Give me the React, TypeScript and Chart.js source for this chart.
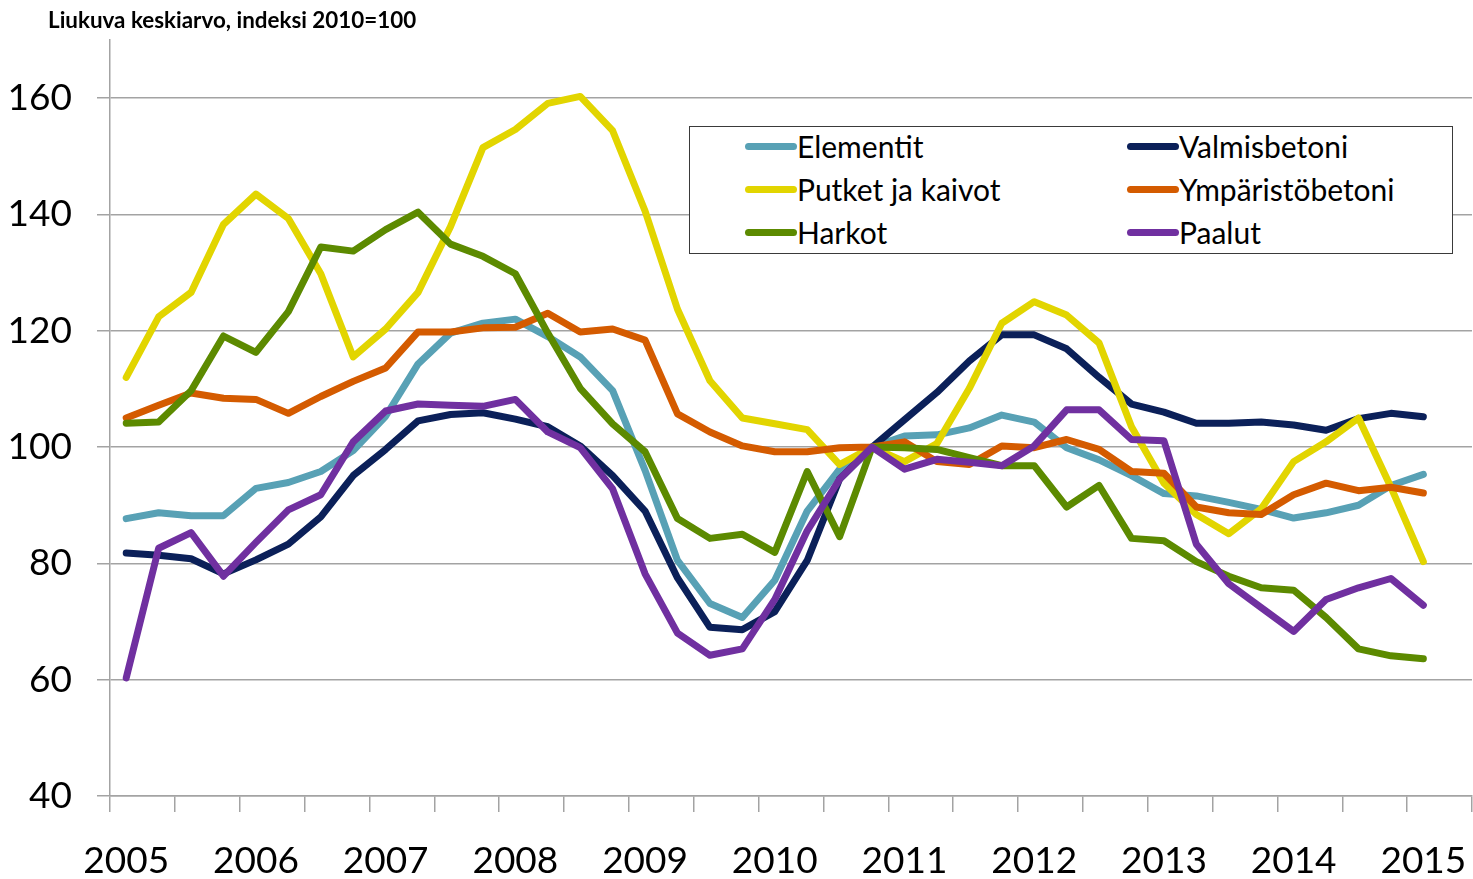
import React, { useEffect, useRef } from 'react';
import { Chart, registerables } from 'chart.js';

Chart.register(...registerables);

// ---- data ----
const YEARS = ['2005', '2006', '2007', '2008', '2009', '2010', '2011', '2012', '2013', '2014', '2015'];
const QUARTERS = ['Q1', 'Q2', 'Q3', 'Q4'];
const CATEGORIES: string[] = [];
YEARS.forEach((y) => QUARTERS.forEach((q) => CATEGORIES.push(y + q)));
const CATS = CATEGORIES.slice(0, 42); // 2005Q1 .. 2015Q2

const Y_TICKS = [40, 60, 80, 100, 120, 140, 160];

const TITLE = 'Liukuva keskiarvo, indeksi 2010=100';

const ELEMENTIT = [
  87.7, 88.7, 88.2, 88.2, 92.9, 93.9, 95.8, 99.4, 105.3, 114.3,
  119.6, 121.3, 122.0, 119.0, 115.5, 109.7, 96.0, 80.5, 73.1, 70.7,
  77.1, 89.0, 96.2, 100.0, 101.9, 102.1, 103.3, 105.5, 104.3, 99.9,
  97.8, 95.1, 92.0, 91.6, 90.5, 89.3, 87.8, 88.7, 90.0, 93.4,
  95.3,
];
const VALMISBETONI = [
  81.8, 81.4, 80.8, 78.2, 80.6, 83.3, 88.0, 95.1, 99.6, 104.5,
  105.6, 105.9, 104.8, 103.5, 100.2, 95.1, 89.0, 77.5, 69.0, 68.6,
  71.7, 80.5, 94.5, 100.0, 104.7, 109.4, 114.8, 119.3, 119.3, 116.9,
  112.0, 107.4, 106.0, 104.1, 104.1, 104.3, 103.8, 102.9, 104.9, 105.8,
  105.2,
];
const PUTKET = [
  112.0, 122.4, 126.6, 138.3, 143.5, 139.3, 129.8, 115.5, 120.3, 126.6,
  137.9, 151.5, 154.6, 159.1, 160.3, 154.4, 140.6, 123.7, 111.4, 105.0,
  104.0, 103.0, 97.0, 100.0, 97.5, 100.6, 110.1, 121.3, 125.0, 122.7,
  117.9, 103.5, 93.8, 88.4, 85.1, 89.4, 97.5, 100.9, 105.0, 93.1,
  80.3,
];
const YMPARISTO = [
  105.0, 107.2, 109.3, 108.4, 108.2, 105.8, 108.7, 111.3, 113.6, 119.8,
  119.8, 120.5, 120.6, 123.0, 119.8, 120.3, 118.4, 105.7, 102.6, 100.2,
  99.2, 99.2, 99.9, 100.0, 100.9, 97.5, 97.0, 100.2, 99.9, 101.3,
  99.6, 95.8, 95.5, 89.7, 88.7, 88.4, 91.8, 93.8, 92.5, 93.1,
  92.1,
];
const HARKOT = [
  104.1, 104.3, 109.7, 119.1, 116.3, 123.3, 134.4, 133.7, 137.4, 140.4,
  134.9, 132.8, 129.8, 119.6, 110.1, 104.0, 99.2, 87.7, 84.3, 85.0,
  81.9, 95.8, 84.6, 100.0, 99.9, 99.6, 98.2, 96.8, 96.8, 89.7,
  93.4, 84.3, 83.9, 80.3, 77.8, 75.8, 75.4, 70.7, 65.3, 64.1,
  63.6,
];
const PAALUT = [
  60.3, 82.6, 85.3, 77.8, 83.6, 89.2, 91.8, 100.9, 106.2, 107.4,
  107.2, 107.0, 108.2, 102.6, 99.9, 92.8, 78.2, 68.0, 64.2, 65.3,
  73.8, 85.6, 94.5, 100.0, 96.2, 97.9, 97.4, 96.8, 100.2, 106.4,
  106.4, 101.3, 101.1, 83.3, 76.5, 72.4, 68.3, 73.8, 75.8, 77.4,
  72.8,
];

const SERIES_NAMES = ['Elementit', 'Valmisbetoni', 'Putket ja kaivot', 'Ympäristöbetoni', 'Harkot', 'Paalut'];
const SERIES_DATA = [ELEMENTIT, VALMISBETONI, PUTKET, YMPARISTO, HARKOT, PAALUT];
const SERIES_COLORS = ['#58A1B5', '#0B2059', '#E2D500', '#D45B00', '#5C8A00', '#7030A0'];

// legend layout: two columns, row-wise order
const LEGEND_COL1 = [0, 2, 4];
const LEGEND_COL2 = [1, 3, 5];

const FONT = 'Lato, "Open Sans", sans-serif';
const GRID = '#a3a3a3';

export default function App() {
  const canvasRef = useRef<HTMLCanvasElement | null>(null);

  useEffect(() => {
    document.body.style.margin = '0';
    const canvas = canvasRef.current;
    if (!canvas) return;
    const chart = new Chart(canvas, {
      type: 'line',
      data: {
        labels: CATS,
        datasets: SERIES_NAMES.map((name, i) => ({
          label: name,
          data: SERIES_DATA[i],
          borderColor: SERIES_COLORS[i],
          backgroundColor: SERIES_COLORS[i],
          borderWidth: 7,
          pointRadius: 0,
          tension: 0,
          fill: false,
          order: SERIES_NAMES.length - i,
          borderJoinStyle: 'round' as const,
          borderCapStyle: 'round' as const,
        })),
      },
      options: {
        animation: false,
        responsive: false,
        maintainAspectRatio: false,
        layout: { padding: { top: 40, right: 1, left: 0, bottom: 0 } },
        plugins: {
          legend: { display: false },
          title: { display: false },
          tooltip: { enabled: false },
        },
        scales: {
          x: {
            type: 'category',
            offset: true,
            grid: {
              offset: true,
              drawOnChartArea: false,
              drawTicks: true,
              tickLength: 16,
              lineWidth: 1.5,
              color: (ctx: any) =>
                ctx.index === undefined || ctx.index % 2 === 0 ? GRID : 'rgba(0,0,0,0)',
            },
            border: { display: true, color: GRID, width: 1.5 },
            ticks: {
              autoSkip: false,
              maxRotation: 0,
              minRotation: 0,
              padding: 27,
              color: '#000',
              font: { family: FONT, size: 37 },
              callback: (_v: any, i: number) => (i % 4 === 0 ? CATS[i].slice(0, 4) : ''),
            },
            afterFit: (s: any) => {
              s.height = 83;
              s.paddingLeft = 0;
              s.paddingRight = 0;
            },
          },
          y: {
            min: 40,
            max: 170,
            afterBuildTicks: (s: any) => {
              s.ticks = Y_TICKS.map((v) => ({ value: v }));
            },
            grid: { color: GRID, lineWidth: 1.5, tickLength: 13 },
            border: { display: true, color: GRID, width: 1.5 },
            ticks: {
              padding: 25,
              color: '#000',
              font: { family: FONT, size: 37 },
            },
            afterFit: (s: any) => {
              s.width = 110;
              s.paddingTop = 0;
              s.paddingBottom = 0;
            },
          },
        },
      },
    });
    return () => chart.destroy();
  }, []);

  const legendItem = (idx: number, lineLeft: number, rowTop: number) => (
    <div key={idx} style={{ position: 'absolute', left: lineLeft, top: rowTop, height: 0 }}>
      <div
        style={{
          position: 'absolute',
          left: 0,
          top: -3.5,
          width: 52,
          height: 7,
          borderRadius: 3.5,
          background: SERIES_COLORS[idx],
        }}
      />
      <div
        style={{
          position: 'absolute',
          left: 52,
          top: -20,
          height: 40,
          lineHeight: '40px',
          whiteSpace: 'nowrap',
          fontFamily: FONT,
          fontSize: 30,
          color: '#000',
        }}
      >
        {SERIES_NAMES[idx]}
      </div>
    </div>
  );

  return (
    <div style={{ position: 'relative', width: 1473, height: 879, background: '#fff', overflow: 'hidden' }}>
      <canvas ref={canvasRef} width={1473} height={879} style={{ display: 'block' }} />
      <div
        style={{
          position: 'absolute',
          left: 48,
          top: 4,
          fontFamily: FONT,
          fontWeight: 700,
          fontSize: 22.4,
          lineHeight: '32px',
          color: '#000',
          whiteSpace: 'nowrap',
        }}
      >
        {TITLE}
      </div>
      <div
        style={{
          position: 'absolute',
          left: 689,
          top: 126,
          width: 764,
          height: 128,
          boxSizing: 'border-box',
          border: '1.5px solid #3a3a3a',
          background: '#fff',
        }}
      >
        {LEGEND_COL1.map((idx, r) => legendItem(idx, 55, 19 + r * 43))}
        {LEGEND_COL2.map((idx, r) => legendItem(idx, 437, 19 + r * 43))}
      </div>
    </div>
  );
}
